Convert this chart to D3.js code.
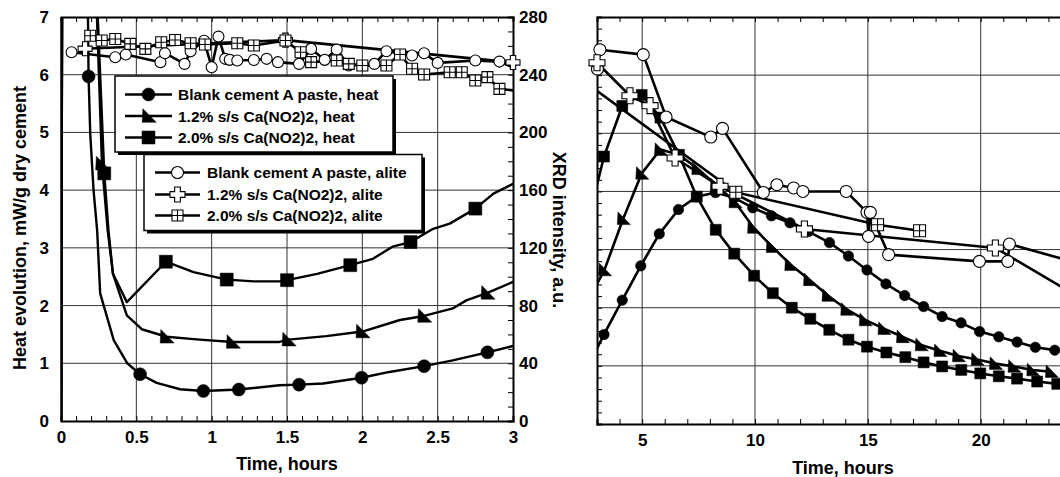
<!DOCTYPE html>
<html>
<head>
<meta charset="utf-8">
<script src="https://cdn.jsdelivr.net/npm/d3@7"></script>
<style>
  body { margin: 0; background: #fff; }
  text { font-family: Arial, "Liberation Sans", sans-serif; font-weight: bold; fill: #000; }
</style>
</head>
<body>
<script>
// ---- data (time in hours; heat in mW/g dry cement; alite in XRD a.u.) ----
var heatTicks = [0, 1, 2, 3, 4, 5, 6, 7];
var xrdTicks = [0, 40, 80, 120, 160, 200, 240, 280];
var timeTicksL = [0, 0.5, 1, 1.5, 2, 2.5, 3];
var timeTicksR = [5, 10, 15, 20];

var legendHeat = ["Blank cement A paste, heat", "1.2% s/s Ca(NO2)2, heat", "2.0% s/s Ca(NO2)2, heat"];
var legendAlite = ["Blank cement A paste, alite", "1.2% s/s Ca(NO2)2, alite", "2.0% s/s Ca(NO2)2, alite"];

// heat: points of the early curve without markers, and points shown with markers
var blankHeatEarly = [[0, 0], [0.01, 10], [0.175, 8], [0.194, 4.98], [0.216, 4.0], [0.24, 3.3], [0.26, 2.21],
  [0.35, 1.4], [0.44, 1.0], [0.635, 0.66], [0.79, 0.55], [1.45, 0.62], [1.74, 0.65], [2.18, 0.85], [2.6, 1.05], [3.0, 1.30]];
var blankHeatMarks = [[0.183, 5.97], [0.525, 0.81], [0.945, 0.52], [1.18, 0.545], [1.58, 0.63], [1.995, 0.75],
  [2.41, 0.95], [2.83, 1.19], [3.31, 1.54], [4.12, 2.13], [4.94, 2.72], [5.76, 3.27], [6.61, 3.69], [7.42, 3.91],
  [8.25, 3.98], [9.08, 3.89], [9.90, 3.72], [10.73, 3.58], [11.55, 3.46], [12.37, 3.31], [13.30, 3.12],
  [14.14, 2.89], [14.96, 2.65], [15.80, 2.41], [16.63, 2.21], [17.47, 2.02], [18.29, 1.85], [19.13, 1.74],
  [19.95, 1.59], [20.80, 1.50], [21.61, 1.41], [22.42, 1.32], [23.28, 1.27]];

var heat12Early = [[0, 0], [0.01, 10], [0.232, 7.5], [0.31, 3.3], [0.345, 2.55], [0.437, 1.83], [0.536, 1.59],
  [0.92, 1.41], [1.45, 1.37], [1.76, 1.47], [2.25, 1.75], [2.6, 1.95], [2.69, 2.09], [3.0, 2.41]];
var heat12Marks = [[0.272, 4.46], [0.70, 1.46], [1.14, 1.37], [1.51, 1.41], [2.0, 1.55], [2.41, 1.82], [2.83, 2.22],
  [3.33, 2.65], [4.16, 3.53], [4.98, 4.31], [5.81, 4.72], [6.63, 4.63], [7.46, 4.39], [8.28, 4.11], [9.11, 3.82],
  [9.93, 3.38], [10.76, 3.05], [11.58, 2.74], [12.41, 2.48], [13.23, 2.21], [14.06, 1.97], [14.88, 1.79],
  [15.71, 1.64], [16.53, 1.50], [17.36, 1.36], [18.19, 1.26], [19.01, 1.17], [19.84, 1.11], [20.65, 1.04],
  [21.47, 0.99], [22.30, 0.93], [23.13, 0.90]];

var heat20Early = [[0, 0], [0.01, 10], [0.236, 7.5], [0.315, 3.3], [0.345, 2.55], [0.437, 2.06], [0.88, 2.58],
  [1.28, 2.42], [1.45, 2.42], [1.70, 2.55], [2.07, 2.81], [2.20, 3.02], [2.47, 3.33], [2.58, 3.42], [2.87, 3.94], [3.0, 4.11]];
var heat20Marks = [[0.287, 4.29], [0.696, 2.76], [1.10, 2.45], [1.50, 2.44], [1.92, 2.70], [2.32, 3.10], [2.75, 3.68],
  [3.31, 4.60], [4.12, 5.47], [4.98, 5.66], [5.81, 5.27], [6.63, 4.63], [7.42, 3.91], [8.26, 3.34], [9.08, 2.93],
  [9.96, 2.55], [10.79, 2.25], [11.63, 2.00], [12.45, 1.81], [13.29, 1.62], [14.14, 1.45], [14.96, 1.33],
  [15.82, 1.23], [16.66, 1.15], [17.47, 1.06], [18.29, 0.99], [19.14, 0.93], [19.98, 0.87], [20.80, 0.82],
  [21.61, 0.78], [22.50, 0.73], [23.39, 0.69]];

// alite (every point has a marker)
var blankAlite = [[0.07, 255.6], [0.36, 252.1], [0.43, 254], [0.66, 248.7], [0.69, 254.9], [0.82, 247.5],
  [0.86, 256.2], [0.95, 263.5], [1.0, 245.2], [1.045, 266.4], [1.09, 251], [1.12, 250.3], [1.17, 249.8],
  [1.28, 250.2], [1.365, 251], [1.44, 248.7], [1.58, 247.5], [1.66, 257.9], [1.75, 250.3], [1.83, 257.4],
  [1.91, 246.4], [2.08, 247.5], [2.16, 256.3], [2.33, 253.3], [2.41, 254.9], [2.50, 248.2], [2.75, 249.8],
  [2.91, 249.1], [3.02, 244.2], [3.13, 257.5], [5.05, 254.1], [6.06, 211.2], [8.04, 197.4], [8.56, 203.4],
  [10.37, 159.3], [10.97, 164.6], [11.71, 162.4], [12.12, 160.0], [14.04, 160.0], [14.96, 145.6],
  [15.03, 129.1], [15.11, 145.6], [15.92, 116.5], [19.94, 111.9], [21.20, 111.9], [21.27, 123.8], [24.5, 109.8]];
var alite12 = [[0.16, 258], [1.49, 264], [3.0, 248.5], [4.46, 225.8], [5.35, 219], [6.46, 183], [8.45, 163.5],
  [12.19, 134.2], [20.65, 121.1], [24.5, 85.9]];
var alite20 = [[0.194, 267], [0.27, 263.7], [0.36, 264.8], [0.46, 261.4], [0.56, 257.9], [0.665, 262.5],
  [0.757, 264.1], [0.86, 261.8], [0.956, 260.9], [1.17, 261.8], [1.28, 260.2], [1.49, 263.7], [1.59, 255.6],
  [1.66, 248.7], [1.83, 249.8], [1.91, 247.5], [2.0, 246.4], [2.16, 246.4], [2.25, 254], [2.33, 244.1],
  [2.41, 240.1], [2.58, 241.7], [2.66, 241.7], [2.75, 236], [2.83, 238.3], [2.91, 230.2], [9.15, 159.4],
  [15.43, 137.1], [17.29, 133.0]];

var heatSeries = [
  { early: blankHeatEarly, marks: blankHeatMarks, type: "circle" },
  { early: heat12Early, marks: heat12Marks, type: "tri" },
  { early: heat20Early, marks: heat20Marks, type: "square" }
];
var aliteSeries = [
  { points: blankAlite, type: "ocircle" },
  { points: alite12, type: "cross" },
  { points: alite20, type: "hatch" }
];

// ---- drawing ----
let w = 1060, h = 477;
let svg = d3.select("body").append("svg").attr("width", w).attr("height", h);

function shape(type, s) {
  let r = s / 2;
  if (type == "circle" || type == "ocircle")
    return "M" + (-r) + ",0A" + r + "," + r + " 0 1,0 " + r + ",0A" + r + "," + r + " 0 1,0 " + (-r) + ",0Z";
  if (type == "square") return "M" + (-r) + "," + (-r) + "H" + r + "V" + r + "H" + (-r) + "Z";
  if (type == "tri")
    return "M" + (-0.4 * s) + "," + (-0.52 * s) + "L" + (0.55 * s) + "," + (0.45 * s) + "L" + (-0.45 * s) + "," + (0.45 * s) + "Z";
  if (type == "cross") {
    let a = s * 0.19;
    return "M" + (-a) + "," + (-r) + "H" + a + "V" + (-a) + "H" + r + "V" + a + "H" + a + "V" + r +
      "H" + (-a) + "V" + a + "H" + (-r) + "V" + (-a) + "H" + (-a) + "Z";
  }
  // hatched square
  return "M" + (-r) + "," + (-r) + "H" + r + "V" + r + "H" + (-r) + "Z M0," + (-r) + "V" + r + " M" + (-r) + ",0H" + r;
}
function styleMark(sel, type) {
  let open = (type == "ocircle" || type == "cross" || type == "hatch");
  sel.attr("fill", open ? "#fff" : "#000").attr("stroke", "#000").attr("stroke-width", open ? 1.1 : 0.5);
}

function panel(opt) {
  let x = opt.x, yH = opt.yH, yA = opt.yA;
  let x0 = x.range()[0], x1 = x.range()[1], yb = yH.range()[0], yt = yH.range()[1];
  let g = svg.append("g");

  g.append("clipPath").attr("id", opt.id).append("rect")
    .attr("x", x0).attr("y", yt).attr("width", x1 - x0).attr("height", yb - yt);

  // grid
  g.selectAll(".gx").data(opt.gridX).enter().append("line")
    .attr("x1", d => x(d)).attr("x2", d => x(d)).attr("y1", yb).attr("y2", yt)
    .attr("stroke", "#333").attr("stroke-width", 1);
  g.selectAll(".gy").data(opt.gridY).enter().append("line")
    .attr("x1", x0).attr("x2", x1).attr("y1", d => yH(d)).attr("y2", d => yH(d))
    .attr("stroke", "#333").attr("stroke-width", 1);

  // axes
  let bottom = g.append("g").attr("transform", "translate(0," + yb + ")")
    .call(d3.axisBottom(x).tickValues(opt.minorX).tickSize(-5).tickPadding(10)
      .tickFormat(d => opt.labelX.some(v => Math.abs(v - d) < 1e-6) ? d3.format("")(+d.toFixed(1)) : ""));
  let top = g.append("g").attr("transform", "translate(0," + yt + ")")
    .call(d3.axisTop(x).tickValues(opt.minorX).tickSize(-5).tickFormat(""));
  let left = g.append("g").attr("transform", "translate(" + x0 + ",0)")
    .call(d3.axisLeft(yH).tickValues(opt.leftTicks).tickSize(opt.leftLabels ? 0 : -5).tickPadding(12)
      .tickFormat(opt.leftLabels ? d3.format("d") : ""));
  [bottom, top, left].forEach(a => {
    a.attr("font-family", null).attr("font-size", null);
    a.selectAll("text").attr("font-size", "17px");
    a.select(".domain").attr("stroke-width", 2);
  });
  left.select(".domain").attr("stroke-width", opt.leftLabels ? 2.5 : 2);
  if (opt.rightAxis) {
    let right = g.append("g").attr("transform", "translate(" + x1 + ",0)")
      .call(d3.axisRight(yA).tickValues(d3.range(0, 281, 10)).tickSize(-5).tickPadding(6)
        .tickFormat(d => d % 40 == 0 ? d : ""));
    right.attr("font-family", null).attr("font-size", null);
    right.selectAll("text").attr("font-size", "17px");
    right.select(".domain").attr("stroke-width", 2);
  }

  let tmin = x.domain()[0], tmax = x.domain()[1];
  let inside = d => d[0] >= tmin - 1e-9 && d[0] <= Math.min(tmax, opt.visibleMax) + 1e-9;
  let plot = g.append("g");
  let lines = plot.append("g").attr("clip-path", "url(#" + opt.id + ")");

  // heat curves on left scale
  heatSeries.forEach(s => {
    let pts = d3.sort(s.early.concat(s.marks), d => d[0]);
    lines.append("path").datum(pts)
      .attr("d", d3.line().x(d => x(d[0])).y(d => yH(d[1])))
      .attr("fill", "none").attr("stroke", "#000").attr("stroke-width", opt.heatWidth)
      .attr("stroke-linejoin", "round");
    plot.append("g").selectAll("path").data(s.marks.filter(inside)).enter().append("path")
      .attr("transform", d => "translate(" + x(d[0]) + "," + yH(d[1]) + ")")
      .attr("d", shape(s.type, opt.heatSize[s.type]))
      .call(styleMark, s.type);
  });

  // alite curves on right scale
  let aLines = plot.append("g").attr("clip-path", "url(#" + opt.id + ")");
  aliteSeries.forEach(s => {
    aLines.append("path").datum(s.points)
      .attr("d", d3.line().x(d => x(d[0])).y(d => yA(d[1])))
      .attr("fill", "none").attr("stroke", "#000").attr("stroke-width", 2.6)
      .attr("stroke-linejoin", "round");
    plot.append("g").selectAll("path").data(s.points.filter(inside)).enter().append("path")
      .attr("transform", d => "translate(" + x(d[0]) + "," + yA(d[1]) + ")")
      .attr("d", shape(s.type, opt.aliteSize[s.type]))
      .call(styleMark, s.type);
  });
}

var xL = d3.scaleLinear().domain([0, 3]).range([61, 513]);
var yL = d3.scaleLinear().domain([0, 7]).range([421, 17]);
var aL = d3.scaleLinear().domain([0, 280]).range([421, 17]);
var xR = d3.scaleLinear().domain([3, 24]).range([597, 1071]);
var yR = d3.scaleLinear().domain([0, 7]).range([424, 17]);
var aR = d3.scaleLinear().domain([0, 280]).range([424, 17]);

panel({
  id: "clipL", x: xL, yH: yL, yA: aL,
  gridX: [0.5, 1, 1.5, 2, 2.5], gridY: [1, 2, 3, 4, 5, 6],
  minorX: d3.range(0, 3.001, 0.1), labelX: timeTicksL,
  leftTicks: heatTicks, leftLabels: true, rightAxis: true, visibleMax: 3,
  heatWidth: 2.4, heatSize: { circle: 13, tri: 14, square: 13 },
  aliteSize: { ocircle: 11, cross: 14, hatch: 11 }
});
panel({
  id: "clipR", x: xR, yH: yR, yA: aR,
  gridX: [5, 10, 15, 20], gridY: [1, 2, 3, 4, 5, 6],
  minorX: d3.range(3, 24.001, 1), labelX: timeTicksR,
  leftTicks: d3.range(0, 7.001, 0.2), leftLabels: false, rightAxis: false, visibleMax: 23.6,
  heatWidth: 2.6, heatSize: { circle: 10.5, tri: 13, square: 11 },
  aliteSize: { ocircle: 12, cross: 16, hatch: 12 }
});

// axis titles
svg.append("text").attr("transform", "translate(25.5,228) rotate(-90)").attr("text-anchor", "middle")
  .attr("font-size", "18px").text("Heat evolution, mW/g dry cement");
svg.append("text").attr("transform", "translate(553,230) rotate(90)").attr("text-anchor", "middle")
  .attr("font-size", "18px").text("XRD intensity, a.u.");
svg.append("text").attr("x", 287).attr("y", 470).attr("text-anchor", "middle")
  .attr("font-size", "18px").text("Time, hours");
svg.append("text").attr("x", 843).attr("y", 474).attr("text-anchor", "middle")
  .attr("font-size", "18px").text("Time, hours");

// legends
function legend(x, y, bw, bh, labels, series, sizes, lineX0, lineX1, textX, rowY) {
  let g = svg.append("g");
  g.append("rect").attr("x", x + 3).attr("y", y + 3).attr("width", bw).attr("height", bh).attr("fill", "#000");
  g.append("rect").attr("x", x).attr("y", y).attr("width", bw).attr("height", bh)
    .attr("fill", "#fff").attr("stroke", "#000").attr("stroke-width", 1.5);
  labels.forEach((t, i) => {
    let cy = y + rowY[i];
    g.append("line").attr("x1", x + lineX0).attr("x2", x + lineX1).attr("y1", cy).attr("y2", cy)
      .attr("stroke", "#000").attr("stroke-width", 2.6);
    g.append("path").attr("transform", "translate(" + (x + (lineX0 + lineX1) / 2) + "," + cy + ")")
      .attr("d", shape(series[i].type, sizes[series[i].type])).call(styleMark, series[i].type);
    g.append("text").attr("x", x + textX).attr("y", cy).attr("dy", "0.36em")
      .attr("font-size", "15.5px").text(t);
  });
}
legend(115, 76, 278, 76, legendHeat, heatSeries, { circle: 13, tri: 14, square: 13 }, 10, 57, 63, [18.5, 40, 61.5]);
legend(144, 154.5, 278, 76, legendAlite, aliteSeries, { ocircle: 12, cross: 15, hatch: 11 }, 11, 56, 63, [18, 40, 61]);
</script>
</body>
</html>
